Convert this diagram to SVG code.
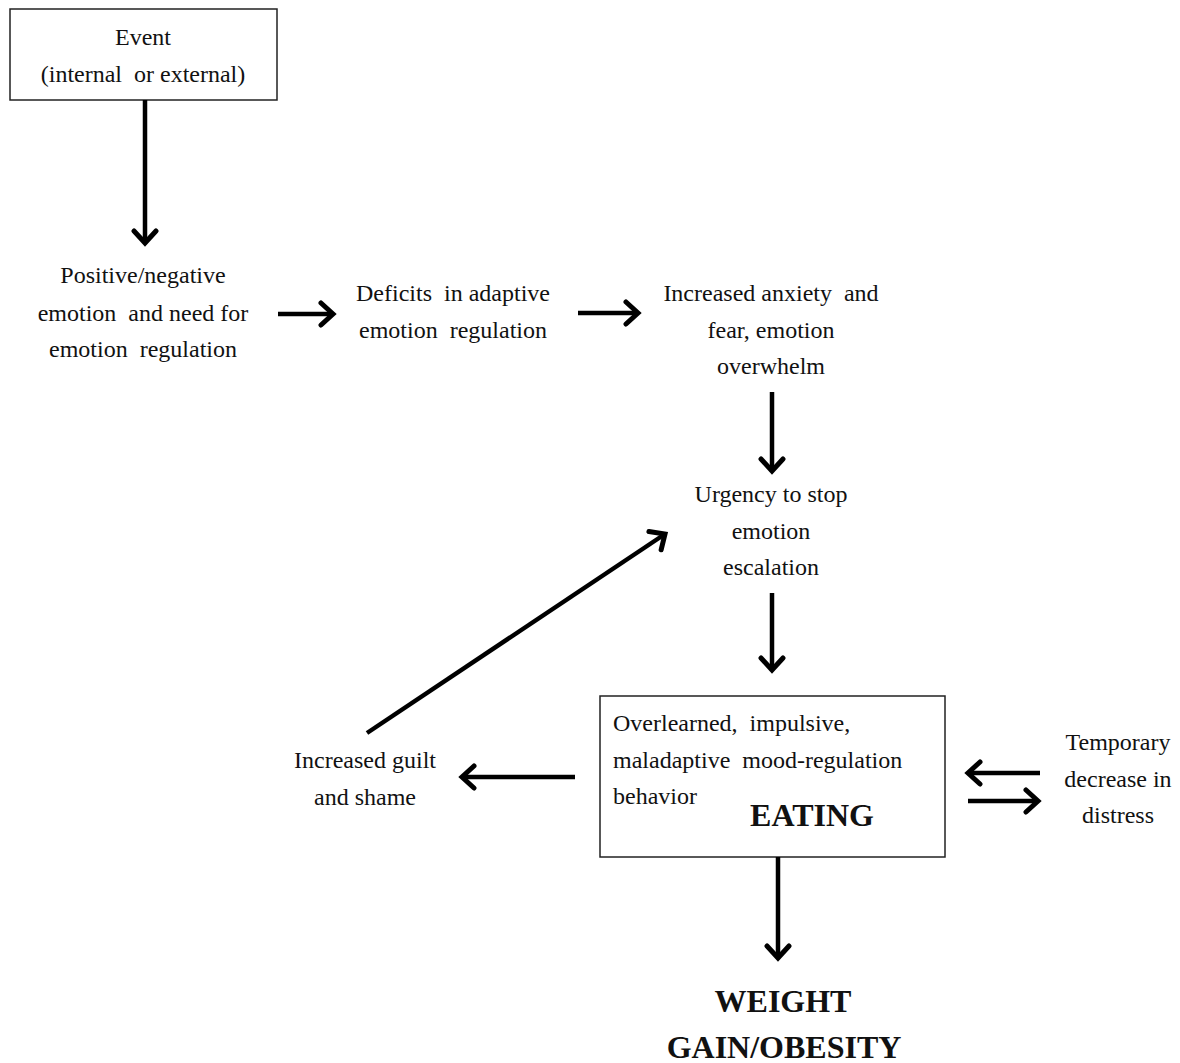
<svg xmlns="http://www.w3.org/2000/svg" width="1180" height="1063" viewBox="0 0 1180 1063">
<style>
text{font-family:"Liberation Serif","Times New Roman",serif;font-size:24px;fill:#111;white-space:pre}
.c{text-anchor:middle}
.b{font-weight:bold;font-size:32px}
.box{fill:#fff;stroke:#222;stroke-width:1.5}
.ar{stroke:#000;stroke-width:4.5;fill:none;marker-end:url(#ah)}
</style>
<defs>
<marker id="ah" markerUnits="userSpaceOnUse" markerWidth="30" markerHeight="30" refX="15" refY="12" orient="auto" viewBox="0 0 30 24">
<path d="M3,1 L15,12 L3,23" fill="none" stroke="#000" stroke-width="5" stroke-linecap="round" stroke-linejoin="miter"/>
</marker>
</defs>
<rect width="1180" height="1063" fill="#fff"/>
<g id="event">
<rect class="box" x="10" y="9" width="267" height="91"/>
<text class="c" x="143" y="45">Event</text>
<text class="c" x="143" y="82" xml:space="preserve">(internal  or external)</text>
</g>
<g id="positive">
<text class="c" x="143" y="283">Positive/negative</text>
<text class="c" x="143" y="321" xml:space="preserve">emotion  and need for</text>
<text class="c" x="143" y="357" xml:space="preserve">emotion  regulation</text>
</g>
<g id="deficits">
<text class="c" x="453" y="301" xml:space="preserve">Deficits  in adaptive</text>
<text class="c" x="453" y="338" xml:space="preserve">emotion  regulation</text>
</g>
<g id="anxiety">
<text class="c" x="771" y="301" xml:space="preserve">Increased anxiety  and</text>
<text class="c" x="771" y="338">fear, emotion</text>
<text class="c" x="771" y="374">overwhelm</text>
</g>
<g id="urgency">
<text class="c" x="771" y="502">Urgency to stop</text>
<text class="c" x="771" y="539">emotion</text>
<text class="c" x="771" y="575">escalation</text>
</g>
<g id="eating">
<rect class="box" x="600" y="696" width="345" height="161"/>
<text x="613" y="731" xml:space="preserve">Overlearned,  impulsive,</text>
<text x="613" y="768" xml:space="preserve">maladaptive  mood-regulation</text>
<text x="613" y="804">behavior</text>
<text class="b c" x="812" y="826">EATING</text>
</g>
<g id="guilt">
<text class="c" x="365" y="768">Increased guilt</text>
<text class="c" x="365" y="805">and shame</text>
</g>
<g id="temporary">
<text class="c" x="1118" y="750">Temporary</text>
<text class="c" x="1118" y="787">decrease in</text>
<text class="c" x="1118" y="823">distress</text>
</g>
<g id="weight">
<text class="b c" x="783" y="1012">WEIGHT</text>
<text class="b c" x="784" y="1058">GAIN/OBESITY</text>
</g>
<g id="connectors">
<line class="ar" x1="145" y1="100" x2="145" y2="243"/>
<line class="ar" x1="278" y1="314" x2="333" y2="314"/>
<line class="ar" x1="578" y1="313" x2="638" y2="313"/>
<line class="ar" x1="772" y1="392" x2="772" y2="471"/>
<line class="ar" x1="772" y1="593" x2="772" y2="670"/>
<line class="ar" x1="575" y1="777" x2="462" y2="777"/>
<line class="ar" x1="367" y1="733" x2="665" y2="534"/>
<line class="ar" x1="1040" y1="773" x2="968" y2="773"/>
<line class="ar" x1="968" y1="801" x2="1038" y2="801"/>
<line class="ar" x1="778" y1="857" x2="778" y2="958"/>
</g>
</svg>
